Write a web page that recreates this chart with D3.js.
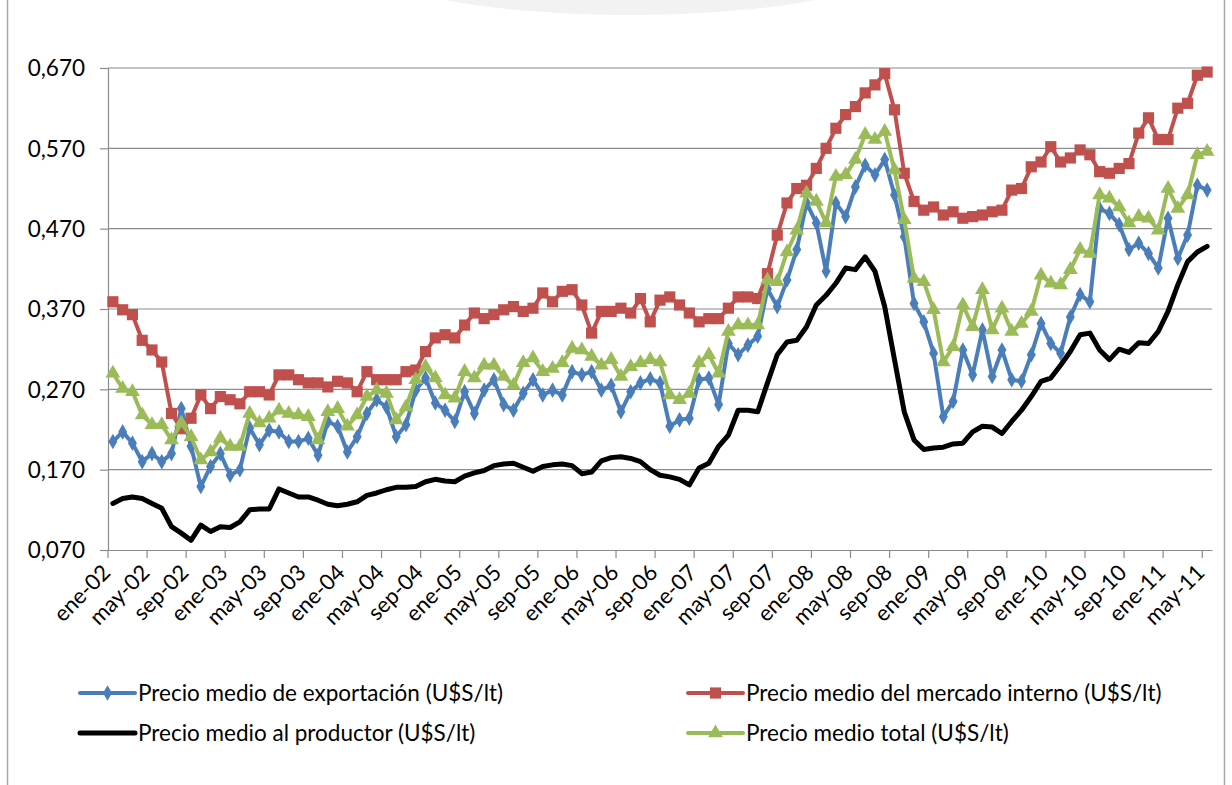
<!doctype html>
<html>
<head>
<meta charset="utf-8">
<title>Precios medios</title>
<script src="https://d3js.org/d3.v7.min.js"></script>
<style>
  body { margin: 0; background: #fff; }
  text { font-family: Lato, "Open Sans", sans-serif; fill: #000; }
  .grid line { stroke: #8c8c8c; stroke-width: 1.2px; }
  .line { fill: none; stroke-linejoin: round; stroke-linecap: round; }
</style>
</head>
<body>
<div id="chart"></div>
<script>
// month labels
var meses = ["ene","feb","mar","abr","may","jun","jul","ago","sep","oct","nov","dic"];
var anios = ["02","03","04","05","06","07","08","09","10","11"];
var months = [];
anios.forEach(function(a) {
  meses.forEach(function(m) { months.push(m + "-" + a); });
});
months = months.slice(0, months.indexOf("may-11") + 1);

var yTicks = [0.07, 0.17, 0.27, 0.37, 0.47, 0.57, 0.67];

// series, ene-02 .. may-11
var exportacion = [
  0.205,0.217,0.203,0.180,0.190,0.180,0.190,0.246,0.199,0.149,0.174,0.190,
  0.163,0.170,0.222,0.201,0.219,0.217,0.205,0.205,0.209,0.188,0.230,0.224,
  0.192,0.211,0.240,0.257,0.248,0.211,0.226,0.269,0.284,0.253,0.244,0.230,
  0.267,0.240,0.269,0.282,0.251,0.244,0.265,0.282,0.263,0.269,0.263,0.292,
  0.288,0.292,0.269,0.275,0.242,0.267,0.278,0.283,0.278,0.224,0.232,0.234,
  0.282,0.284,0.251,0.327,0.313,0.325,0.336,0.395,0.373,0.406,0.444,0.502,
  0.477,0.417,0.502,0.485,0.522,0.549,0.537,0.556,0.512,0.460,0.377,0.354,
  0.315,0.236,0.255,0.319,0.288,0.344,0.286,0.319,0.282,0.280,0.313,0.352,
  0.327,0.315,0.360,0.388,0.379,0.495,0.489,0.475,0.444,0.452,0.439,0.421,
  0.483,0.433,0.462,0.524,0.518
];
var mercadoInterno = [
  0.379,0.369,0.363,0.331,0.319,0.304,0.240,0.221,0.234,0.263,0.246,0.261,
  0.257,0.252,0.267,0.267,0.263,0.288,0.288,0.282,0.278,0.278,0.273,0.280,
  0.278,0.267,0.292,0.282,0.282,0.282,0.292,0.294,0.317,0.334,0.338,0.334,
  0.350,0.365,0.358,0.363,0.369,0.373,0.367,0.371,0.390,0.379,0.392,0.394,
  0.375,0.340,0.367,0.367,0.371,0.365,0.383,0.354,0.381,0.385,0.375,0.365,
  0.354,0.358,0.358,0.371,0.385,0.385,0.383,0.414,0.462,0.502,0.520,0.524,
  0.545,0.570,0.595,0.612,0.622,0.639,0.649,0.663,0.618,0.539,0.504,0.493,
  0.497,0.487,0.491,0.483,0.485,0.487,0.491,0.493,0.518,0.520,0.547,0.553,
  0.572,0.553,0.558,0.568,0.562,0.541,0.539,0.545,0.551,0.589,0.608,0.581,
  0.581,0.620,0.626,0.661,0.665
];
var productor = [
  0.128,0.134,0.136,0.134,0.128,0.122,0.099,0.091,0.082,0.101,0.093,0.099,
  0.098,0.105,0.120,0.121,0.121,0.146,0.141,0.136,0.136,0.132,0.127,0.125,
  0.127,0.130,0.138,0.141,0.145,0.148,0.148,0.149,0.155,0.158,0.156,0.155,
  0.162,0.166,0.169,0.175,0.177,0.178,0.173,0.168,0.174,0.176,0.177,0.175,
  0.165,0.167,0.181,0.185,0.186,0.184,0.180,0.170,0.163,0.161,0.158,0.151,
  0.172,0.178,0.199,0.213,0.244,0.244,0.242,0.278,0.313,0.329,0.331,0.348,
  0.375,0.387,0.402,0.421,0.419,0.435,0.417,0.373,0.307,0.242,0.207,0.195,
  0.197,0.198,0.202,0.203,0.217,0.224,0.223,0.215,0.230,0.244,0.261,0.280,
  0.284,0.300,0.317,0.338,0.340,0.319,0.307,0.320,0.316,0.328,0.327,0.342,
  0.367,0.400,0.429,0.441,0.448
];
var total = [
  0.290,0.271,0.267,0.238,0.226,0.226,0.207,0.228,0.211,0.182,0.192,0.209,
  0.199,0.199,0.240,0.228,0.234,0.244,0.240,0.238,0.236,0.207,0.242,0.246,
  0.224,0.238,0.261,0.269,0.265,0.232,0.248,0.282,0.298,0.284,0.263,0.259,
  0.292,0.284,0.300,0.300,0.286,0.275,0.303,0.309,0.292,0.296,0.303,0.321,
  0.319,0.311,0.300,0.307,0.286,0.298,0.303,0.307,0.304,0.263,0.257,0.265,
  0.303,0.313,0.290,0.342,0.350,0.350,0.350,0.406,0.404,0.441,0.468,0.514,
  0.504,0.477,0.535,0.537,0.556,0.587,0.581,0.591,0.543,0.481,0.408,0.404,
  0.369,0.304,0.323,0.375,0.348,0.394,0.344,0.371,0.342,0.352,0.367,0.412,
  0.402,0.400,0.419,0.444,0.439,0.512,0.508,0.497,0.477,0.485,0.483,0.468,
  0.520,0.495,0.512,0.562,0.566
];

var series = [
  {name: "Precio medio de exportación (U$S/lt)", values: exportacion, color: "#4a7ebb", marker: "diamond"},
  {name: "Precio medio del mercado interno (U$S/lt)", values: mercadoInterno, color: "#c0504d", marker: "square"},
  {name: "Precio medio al productor (U$S/lt)", values: productor, color: "#000000", marker: "none"},
  {name: "Precio medio total (U$S/lt)", values: total, color: "#9bbb59", marker: "triangle"}
];

var W = 1232, H = 785;
var margin = {top: 68, right: 20, bottom: 235, left: 108};
var width = 1212 - margin.left,
    height = 550 - margin.top;

var svg = d3.select("#chart").append("svg")
    .attr("width", W)
    .attr("height", H);

// page decoration + chart border
svg.append("ellipse")
    .attr("cx", 630).attr("cy", -40).attr("rx", 270).attr("ry", 55)
    .attr("fill", "#f2f2f2");
svg.append("rect")
    .attr("x", 7.5).attr("y", -5).attr("width", 1217).attr("height", H + 10)
    .attr("fill", "none").attr("stroke", "#a6a6a6").attr("stroke-width", 1.5);

var g = svg.append("g")
    .attr("transform", "translate(" + margin.left + "," + margin.top + ")");

var x = d3.scaleBand().domain(months).range([0, width]);
var y = d3.scaleLinear().domain([0.07, 0.67]).range([height, 0]);
var cx = function(i) { return x(months[i]) + x.bandwidth() / 2; };

// gridlines
g.append("g").attr("class", "grid")
  .selectAll("line").data(yTicks.slice(1)).enter().append("line")
    .attr("x1", 0).attr("x2", width)
    .attr("y1", function(d) { return y(d); })
    .attr("y2", function(d) { return y(d); });

// y axis
var yAxis = g.append("g")
    .call(d3.axisLeft(y).tickValues(yTicks).tickSize(8).tickPadding(15)
      .tickFormat(function(d) { return d3.format(".3f")(d).replace(".", ","); }));
yAxis.select(".domain").attr("stroke", "#8c8c8c").attr("stroke-width", 1.2);
yAxis.selectAll(".tick line").attr("stroke", "#8c8c8c").attr("stroke-width", 1.2);
yAxis.selectAll("text").style("font-size", "22.5px").attr("dy", "0.35em");

// x axis: tick marks between categories, labels every 4 months
var labelMonths = months.filter(function(d, i) { return i % 4 === 0; });
var xAxis = g.append("g")
    .attr("transform", "translate(0," + height + ")")
    .call(d3.axisBottom(x).tickValues(labelMonths).tickSize(0).tickPadding(0));
xAxis.select(".domain").attr("stroke", "#8c8c8c").attr("stroke-width", 1.2);
xAxis.selectAll(".tick text")
    .style("font-size", "22px")
    .attr("text-anchor", "end")
    .attr("dy", 0)
    .attr("transform", "translate(-1,24) rotate(-45)");
xAxis.selectAll(".boundary").data(labelMonths).enter().append("line")
    .attr("class", "boundary")
    .attr("x1", function(d) { return x(d); }).attr("x2", function(d) { return x(d); })
    .attr("y1", 0).attr("y2", 8)
    .attr("stroke", "#8c8c8c").attr("stroke-width", 1.2);

// lines
var line = d3.line()
    .x(function(d, i) { return cx(i); })
    .y(function(d) { return y(d); });

var markerPath = {
  diamond: d3.symbol().type(d3.symbolDiamond).size(70),
  square: d3.symbol().type(d3.symbolSquare).size(125),
  triangle: d3.symbol().type(d3.symbolTriangle).size(95)
};

series.forEach(function(s) {
  g.append("path")
      .datum(s.values)
      .attr("class", "line")
      .attr("stroke", s.color)
      .attr("stroke-width", s.marker === "none" ? 5 : 4)
      .attr("d", line);
  if (s.marker !== "none") {
    g.append("g").selectAll("path").data(s.values).enter().append("path")
        .attr("d", markerPath[s.marker])
        .attr("fill", s.color)
        .attr("transform", function(d, i) { return "translate(" + cx(i) + "," + y(d) + ")"; });
  }
});

// legend
var legendPos = [
  {x: 80, y: 693}, {x: 688, y: 693},
  {x: 80, y: 733}, {x: 688, y: 733}
];
series.forEach(function(s, i) {
  var p = legendPos[i];
  var lg = svg.append("g").attr("transform", "translate(" + p.x + "," + p.y + ")");
  lg.append("line")
      .attr("x1", 0).attr("x2", 55).attr("y1", 0).attr("y2", 0)
      .attr("stroke", s.color)
      .attr("stroke-width", s.marker === "none" ? 5 : 4)
      .attr("stroke-linecap", "round");
  if (s.marker !== "none") {
    lg.append("path")
        .attr("d", markerPath[s.marker])
        .attr("fill", s.color)
        .attr("transform", "translate(27.5,0)");
  }
  lg.append("text")
      .attr("x", 58).attr("y", 0).attr("dy", "0.35em")
      .style("font-size", "22.5px")
      .text(s.name);
});
</script>
</body>
</html>
